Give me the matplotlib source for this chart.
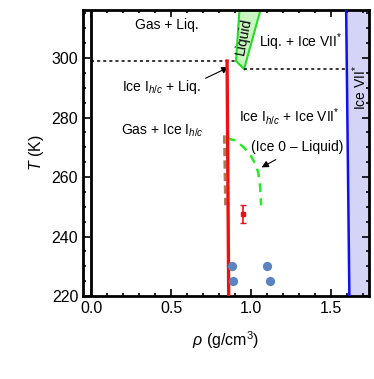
import numpy as np
import matplotlib
matplotlib.use("Agg")
import matplotlib.pyplot as plt
from matplotlib.ticker import MultipleLocator

plt.rcParams['font.family'] = ['Liberation Sans', 'DejaVu Sans']
plt.rcParams['mathtext.fontset'] = 'custom'
plt.rcParams['mathtext.rm'] = 'Liberation Sans'
plt.rcParams['mathtext.it'] = 'Liberation Sans:italic'

# Данни (прочетени от графиката)
ice_ih_rho = [0.85, 0.86]          # червена линия, плътност на лед Ih/c
ice_ih_T = [299.0, 220.0]

ice7_rho = [1.594, 1.614]          # синя линия, лед VII*
ice7_T = [316.0, 220.0]

liquid_rho = [0.927, 1.058, 0.956, 0.906]   # зелен многоъгълник "Liquid"
liquid_T = [316.0, 316.0, 296.3, 299.0]

brown_rho = [0.833, 0.840]
brown_T = [274.0, 250.5]

ice0_rho = [0.848, 0.90, 0.952, 0.995, 1.025, 1.045, 1.057, 1.0625]
ice0_T = [273.0, 272.3, 270.1, 267.5, 264.5, 261.5, 256.5, 250.5]

dash1_rho = [0.0, 0.906]
dash1_T = [299.0, 299.0]
dash2_rho = [0.956, 1.594]
dash2_T = [296.3, 296.3]

exp_rho = [0.948]
exp_T = [247.5]
exp_err = [3.0]

sim_rho = [0.879, 0.889, 1.098, 1.119]
sim_T = [230.1, 225.0, 230.1, 225.0]

fig = plt.figure(figsize=(3.74, 3.79), dpi=100)
ax = fig.add_axes([0.222, 0.219, 0.765, 0.755])

# запълване за лед VII*
ax.fill_betweenx(ice7_T, ice7_rho, [1.74, 1.74], color='#d4d4f7', zorder=1)
ax.plot(ice7_rho, ice7_T, color='#1010ee', lw=1.8, zorder=3)

ax.fill(liquid_rho, liquid_T, facecolor='#c8f5c0', edgecolor='#22dd22', lw=1.5, zorder=2)

ax.axvline(0.0, color='black', lw=2, zorder=3)
ax.plot(dash1_rho, dash1_T, color='black', ls=(0, (2, 2)), lw=1.1, zorder=3)
ax.plot(dash2_rho, dash2_T, color='black', ls=(0, (2, 2)), lw=1.1, zorder=3)

ax.plot(brown_rho, brown_T, color='#a97c50', ls=(0, (3, 1.5)), lw=2, zorder=3)
ax.plot(ice0_rho, ice0_T, color='#22ee22', ls=(0, (3.5, 2.5)), lw=1.8, zorder=3)
ax.plot(ice_ih_rho, ice_ih_T, color='#ee1111', lw=2.4, zorder=4)

ax.errorbar(exp_rho, exp_T, yerr=exp_err, fmt='s', color='#ee1111', ms=3.5,
            capsize=2.5, lw=1.2, zorder=5)
ax.scatter(sim_rho, sim_T, s=32, color='#5b84bf', zorder=5)

fs = 10
ax.text(0.475, 311, 'Gas + Liq.', fontsize=fs, ha='center', va='center')
ax.text(1.31, 305.4, r'Liq. + Ice VII$^{*}$', fontsize=fs, ha='center', va='center')
ax.text(0.44, 290.2, r'Ice I$_{h/c}$ + Liq.', fontsize=fs, ha='center', va='center')
ax.text(0.445, 275.4, r'Gas + Ice I$_{h/c}$', fontsize=fs, ha='center', va='center')
ax.text(1.24, 280.2, r'Ice I$_{h/c}$ + Ice VII$^{*}$', fontsize=fs, ha='center', va='center')
ax.text(1.29, 270.1, '(Ice 0 \u2013 Liquid)', fontsize=fs, ha='center', va='center')
ax.text(0.955, 307.3, 'Liquid', fontsize=fs, ha='center', va='center', rotation=79)
ax.text(1.68, 290, r'Ice VII$^{*}$', fontsize=fs, ha='center', va='center', rotation=90)

ax.annotate('', xy=(0.875, 297.3), xytext=(0.70, 292.8),
            arrowprops=dict(arrowstyle='-|>', color='black', lw=0.8, mutation_scale=10))
ax.annotate('', xy=(1.05, 262.8), xytext=(1.17, 266.3),
            arrowprops=dict(arrowstyle='-|>', color='black', lw=0.8, mutation_scale=10))

ax.set_xlim(-0.05, 1.7375)
ax.set_ylim(220, 316.2)
ax.xaxis.set_major_locator(MultipleLocator(0.5))
ax.xaxis.set_minor_locator(MultipleLocator(0.1))
ax.yaxis.set_major_locator(MultipleLocator(20))
ax.yaxis.set_minor_locator(MultipleLocator(5))
ax.xaxis.set_major_formatter(matplotlib.ticker.FormatStrFormatter('%.1f'))
ax.tick_params(which='both', direction='in', top=True, right=True, labelsize=11.5, width=1.2)
ax.tick_params(which='major', length=5)
ax.tick_params(which='minor', length=2.5)
for s in ax.spines.values():
    s.set_linewidth(2)

ax.set_xlabel(r'$\rho$ (g/cm$^3$)', fontsize=11.5, labelpad=10)
ax.set_ylabel(r'$T$ (K)', fontsize=11.5, labelpad=4)

fig.savefig('out.png', dpi=100)
